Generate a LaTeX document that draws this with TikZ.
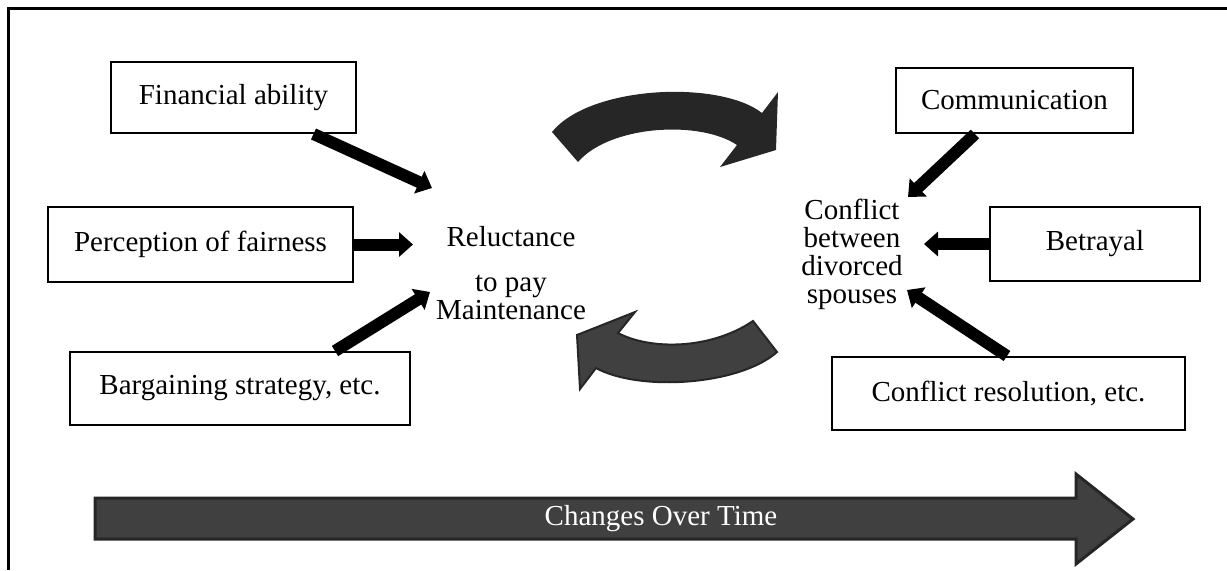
\documentclass[tikz,border=0pt]{standalone}
\usepackage{fontspec}
\setmainfont{Liberation Serif}
\usetikzlibrary{arrows.meta}
\definecolor{arrowdark}{HTML}{262626}
\definecolor{arrowgrey}{HTML}{404040}

\begin{document}
\begin{tikzpicture}[x=0.5pt,y=-0.5pt,
  every node/.style={font=\fontsize{14.5pt}{14pt}\selectfont},
  factor/.style={draw=black,line width=1pt,fill=white,inner sep=0pt,align=center},
  push/.style={line width=6pt,-{Triangle[length=7pt,width=12pt]}},
  cycleback/.style={fill=arrowgrey,draw=arrowdark,line width=1pt,line join=miter},
  cycleforth/.style={fill=arrowdark},
  timeline/.style={fill=arrowgrey,draw=arrowdark,line width=1.5pt,line join=miter}]
\useasboundingbox (0,0) rectangle (1227,570);

% outer frame (top and left edges)
\draw[line width=1.5pt] (8,570) -- (8,8) -- (1227,8);

% factor boxes on the left
\node[factor,minimum width=122.5pt,minimum height=35.5pt] (fin) at (233.5,97.5) {Financial ability};
\node[factor,minimum width=152.5pt,minimum height=37.5pt] (per) at (200.5,244.5) {Perception of fairness};
\node[factor,minimum width=170pt,minimum height=36.5pt] (barg) at (240,388.5) {Bargaining strategy, etc.};

% factor boxes on the right
\node[factor,minimum width=118.5pt,minimum height=32.5pt] (com) at (1014.5,100.5) {Communication};
\node[factor,minimum width=105pt,minimum height=37pt] (bet) at (1095,244) {Betrayal};
\node[factor,minimum width=176.5pt,minimum height=36.5pt] (res) at (1008.5,393.5) {Conflict resolution, etc.};

% central concepts
\node[align=center] (rel) at (511,273.5) {Reluctance\\[8.5pt]to pay\\Maintenance};
\node[align=center] (conf) at (852,254.5) {Conflict\\between\\divorced\\spouses};

% arrow targets around the central concepts
\coordinate (finTip) at (432,188);
\coordinate (perTip) at (413,244.5);
\coordinate (bargTip) at (430,292);
\coordinate (comTip) at (908,197);
\coordinate (betTip) at (924,244);
\coordinate (resTip) at (907,290);

\draw[push] ([xshift=40pt]fin.south) -- (finTip);
\draw[push] (per.east) -- (perTip);
\draw[push] ([xshift=47.5pt]barg.north) -- (bargTip);
\draw[push] ([xshift=-19.75pt]com.south) -- (comTip);
\draw[push] (bet.west) -- (betTip);
\draw[push] ([xshift=-0.75pt]res.north) -- (resTip);

% curved cycle arrows
\fill[cycleforth] (552,132) .. controls (590,85) and (720,80) .. (762,113)
  -- (778,92) -- (776,150) -- (720,167) -- (737,145)
  .. controls (700,120) and (610,125) .. (578,162) -- cycle;
\path[cycleback] (618,333) .. controls (650,350) and (710,350) .. (753,321)
  -- (777,352) .. controls (740,385) and (640,392) .. (596,368)
  -- (580,389) -- (577,335) -- (635,312) -- cycle;

% time arrow
\path[timeline] (95,498) -- (1076,498) -- (1076,474) -- (1133,519)
  -- (1076,564) -- (1076,539) -- (95,539) -- cycle;
\node[text=white] (time) at (661,519) {Changes Over Time};
\end{tikzpicture}
\end{document}
